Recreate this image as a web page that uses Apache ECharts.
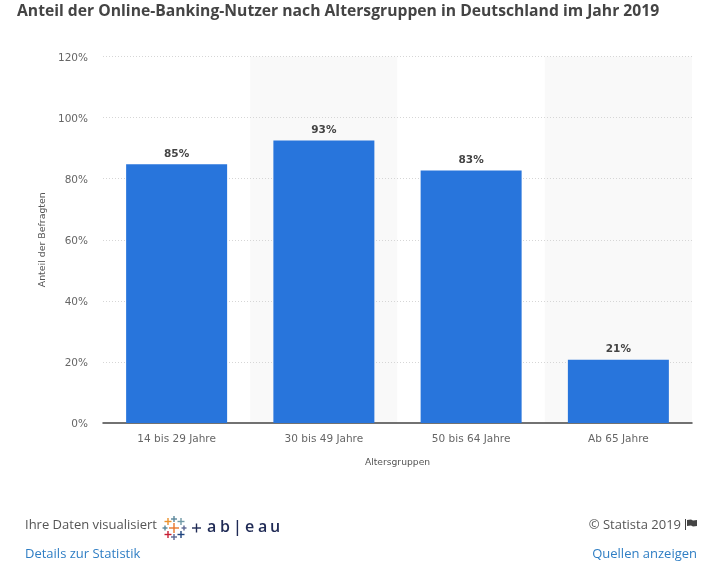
<!DOCTYPE html>
<html>
<head>
<meta charset="utf-8">
<style>
  html, body { margin: 0; padding: 0; background: #fff; }
  #grafico { width: 705px; height: 588px; }
</style>
<script src="https://cdn.jsdelivr.net/npm/echarts@6/dist/echarts.min.js"></script>
</head>
<body>
<div id="grafico"></div>
<script>
var titulo = "Anteil der Online-Banking-Nutzer nach Altersgruppen in Deutschland im Jahr 2019";
var categorias = ["14 bis 29 Jahre", "30 bis 49 Jahre", "50 bis 64 Jahre", "Ab 65 Jahre"];
var valores = [84.7, 92.5, 82.7, 20.7];
var nombreEjeY = "Anteil der Befragten";
var nombreEjeX = "Altersgruppen";

var fuente = "'Open Sans', sans-serif";
var fuenteEje = "'DejaVu Sans', sans-serif";

// Logo de tableau: cruces decorativas [cx, cy, radio, color]
var cruces = [
  [174, 528, 5, "#e8762b"], [174, 519, 3, "#5b879b"], [174, 537, 3, "#5c6692"],
  [168, 521.5, 3.5, "#eb912b"], [181, 521.5, 3.5, "#7099a6"],
  [168, 534.5, 3.5, "#c72035"], [181, 534.5, 3.5, "#1f447e"],
  [165, 528, 2.5, "#59879b"], [184, 528, 2.5, "#5c6692"],
  [196.5, 528, 4.5, "#1f2a55"]
];
// Letras del logo [x, letra]
var letrasLogo = [[207, "a"], [220, "b"], [233, "|"], [245, "e"], [258, "a"], [270, "u"]];

function crearCruz(c) {
  return {
    type: "group",
    children: [
      { type: "rect", shape: { x: c[0] - c[2], y: c[1] - 0.7, width: c[2] * 2, height: 1.4 }, style: { fill: c[3] } },
      { type: "rect", shape: { x: c[0] - 0.7, y: c[1] - c[2], width: 1.4, height: c[2] * 2 }, style: { fill: c[3] } }
    ]
  };
}

function crearLetra(l) {
  return {
    type: "text",
    x: l[0],
    y: 527,
    style: { text: l[1], fill: "#1f2a55", font: "600 16px " + fuente, textVerticalAlign: "middle" }
  };
}

function textoPie(x, y, texto, color, align) {
  return {
    type: "text",
    x: x,
    y: y,
    style: { text: texto, fill: color, font: "13px " + fuente, textAlign: align || "left", textVerticalAlign: "middle" }
  };
}

var graficos = [
  textoPie(25, 525, "Ihre Daten visualisiert", "#555555"),
  textoPie(25, 554, "Details zur Statistik", "#2f7ec4"),
  textoPie(681, 525, "© Statista 2019", "#555555", "right"),
  textoPie(697, 554, "Quellen anzeigen", "#2f7ec4", "right"),
  // Bandera junto al copyright
  { type: "rect", shape: { x: 685, y: 519, width: 1, height: 11 }, style: { fill: "#444444" } },
  {
    type: "polygon",
    shape: { points: [[687, 520], [691, 519.5], [693, 520.5], [697, 520], [697, 526], [693, 526.5], [691, 525.5], [687, 526]] },
    style: { fill: "#444444" }
  }
].concat(cruces.map(crearCruz), letrasLogo.map(crearLetra));

var option = {
  animation: false,
  backgroundColor: "#ffffff",
  title: {
    text: titulo,
    left: 17,
    top: 4,
    padding: 0,
    textStyle: { fontFamily: fuente, fontSize: 15.7, fontWeight: "bold", color: "#444444" }
  },
  grid: { left: 103, right: 13, top: 56.5, bottom: 165 },
  xAxis: {
    type: "category",
    z: 0,
    data: categorias,
    name: nombreEjeX,
    nameLocation: "middle",
    nameGap: 35,
    nameTextStyle: { fontFamily: fuenteEje, fontSize: 9.2, color: "#555555" },
    axisLine: { show: true, lineStyle: { color: "#444444", width: 1.5 } },
    axisTick: { show: false },
    axisLabel: { fontFamily: fuenteEje, fontSize: 10.5, color: "#666666", margin: 11 },
    splitArea: { show: true, areaStyle: { color: ["#ffffff", "#f9f9f9"] } }
  },
  yAxis: {
    type: "value",
    z: 1,
    min: 0,
    max: 120,
    interval: 20,
    name: nombreEjeY,
    nameLocation: "middle",
    nameGap: 51,
    nameTextStyle: { fontFamily: fuenteEje, fontSize: 9.4, color: "#555555" },
    axisLine: { show: false },
    axisTick: { show: false },
    axisLabel: { formatter: "{value}%", fontFamily: fuenteEje, fontSize: 10.5, color: "#666666", margin: 15, verticalAlign: "top", lineHeight: 3 },
    splitLine: { show: true, showMinLine: false, lineStyle: { color: "#d6d6d6", type: [1, 2], width: 1 } }
  },
  series: [
    {
      type: "bar",
      data: valores,
      barWidth: 101,
      itemStyle: { color: "#2875dc" },
      label: {
        show: true,
        position: "top",
        distance: 5,
        formatter: function (p) { return Math.round(p.value) + "%"; },
        fontFamily: fuenteEje,
        fontSize: 10.5,
        fontWeight: "bold",
        color: "#444444"
      }
    }
  ],
  graphic: graficos
};

var chart = echarts.init(document.getElementById("grafico"), null, { renderer: "canvas" });
chart.setOption(option);
</script>
</body>
</html>
